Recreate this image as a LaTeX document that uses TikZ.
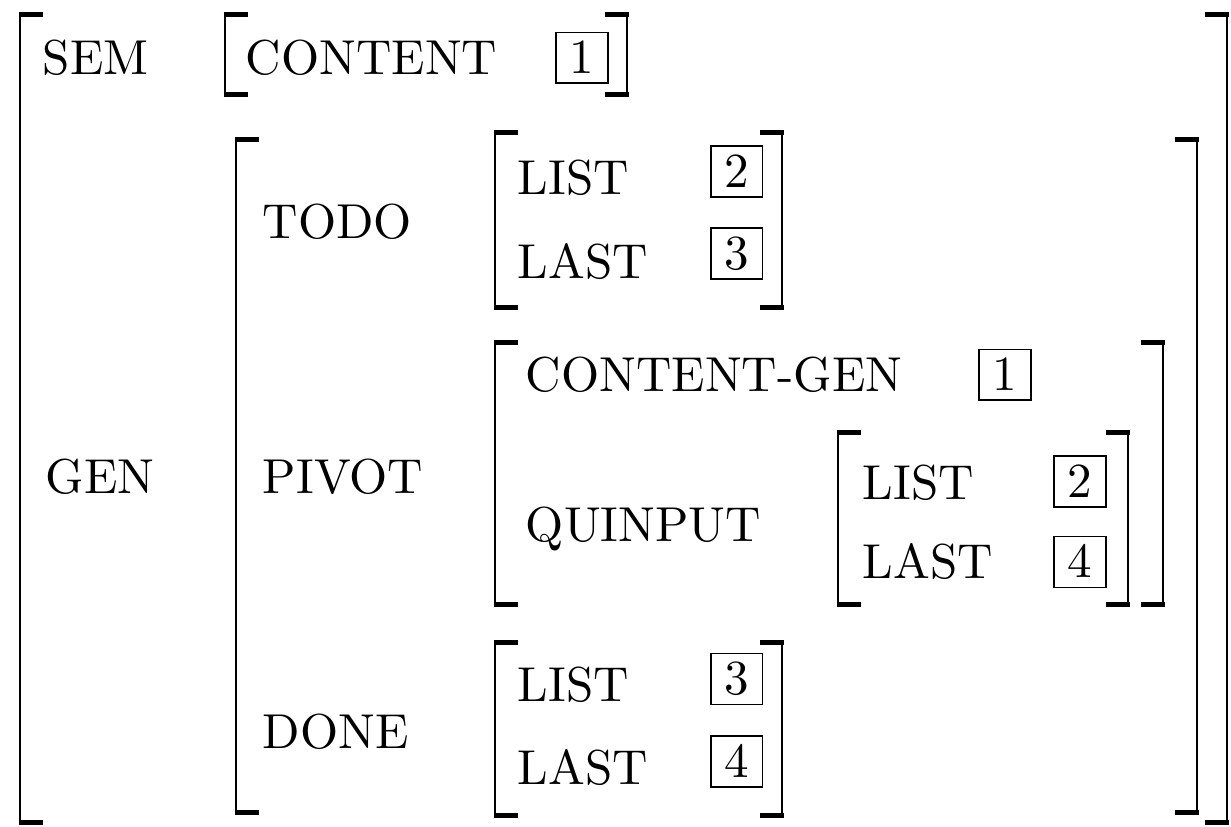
\documentclass[tikz,border=0pt]{standalone}
% bracket made of a thin vertical bar and two heavier end ticks
\newcommand\avmL[3]{%
  \draw[brkbar] (#1,#2) -- (#1,#3);
  \draw[brktick] ({#1-1.5},{#2+2.5}) -- ++(24,0);
  \draw[brktick] ({#1-1.5},{#3-2.5}) -- ++(24,0);}
\newcommand\avmR[3]{%
  \draw[brkbar] (#1,#2) -- (#1,#3);
  \draw[brktick] ({#1+1.5},{#2+2.5}) -- ++(-24,0);
  \draw[brktick] ({#1+1.5},{#3-2.5}) -- ++(-24,0);}
\tikzset{
  brkbar/.style={line width=0.6pt},
  brktick/.style={line width=1pt},
  feat/.style={anchor=west, inner sep=0pt, text height=6.83pt, text depth=0pt},
  tag/.style={draw, line width=0.4pt, inner sep=0pt, minimum width=10.6pt, minimum height=10.4pt, text height=6.4pt, text depth=0pt}
}
\begin{document}
\begin{tikzpicture}[x=0.204pt,y=-0.204pt]
\useasboundingbox (0,0) rectangle (1231,827);

% outermost matrix
\avmL{20}{12}{825}
\avmR{1227}{12}{825}
\node[feat] (sem) at (42,58) {SEM};
\node[feat] (gen) at (45,477) {GEN};

% SEM value
\avmL{225}{12}{97}
\avmR{627}{12}{97}
\node[feat] (content) at (245,58) {CONTENT};
\node[tag] (t1a) at (582,58) {1};

% GEN value
\avmL{236}{137}{815}
\avmR{1197}{137}{815}
\node[feat] (todo) at (262,222) {TODO};
\node[feat] (pivot) at (262,477) {PIVOT};
\node[feat] (done) at (262,732) {DONE};

% TODO value
\avmL{495}{130}{310}
\avmR{782}{130}{310}
\node[feat] (todolist) at (517,178) {LIST};
\node[tag] (t2a) at (736.5,171.5) {2};
\node[feat] (todolast) at (517,262) {LAST};
\node[tag] (t3a) at (736.5,253.5) {3};

% PIVOT value
\avmL{495}{340}{607}
\avmR{1163}{340}{607}
\node[feat] (cgen) at (525,375) {CONTENT-GEN};
\node[tag] (t1b) at (1005,375) {1};
\node[feat] (quinput) at (525,525) {QUINPUT};

% QUINPUT value
\avmL{838}{430}{607}
\avmR{1128}{430}{607}
\node[feat] (qlist) at (862,483) {LIST};
\node[tag] (t2b) at (1080,481.5) {2};
\node[feat] (qlast) at (862,562) {LAST};
\node[tag] (t4a) at (1080,562) {4};

% DONE value
\avmL{495}{640}{818}
\avmR{782}{640}{818}
\node[feat] (donelist) at (517,685) {LIST};
\node[tag] (t3b) at (736.5,679) {3};
\node[feat] (donelast) at (517,768) {LAST};
\node[tag] (t4b) at (736.5,761.5) {4};
\end{tikzpicture}
\end{document}
